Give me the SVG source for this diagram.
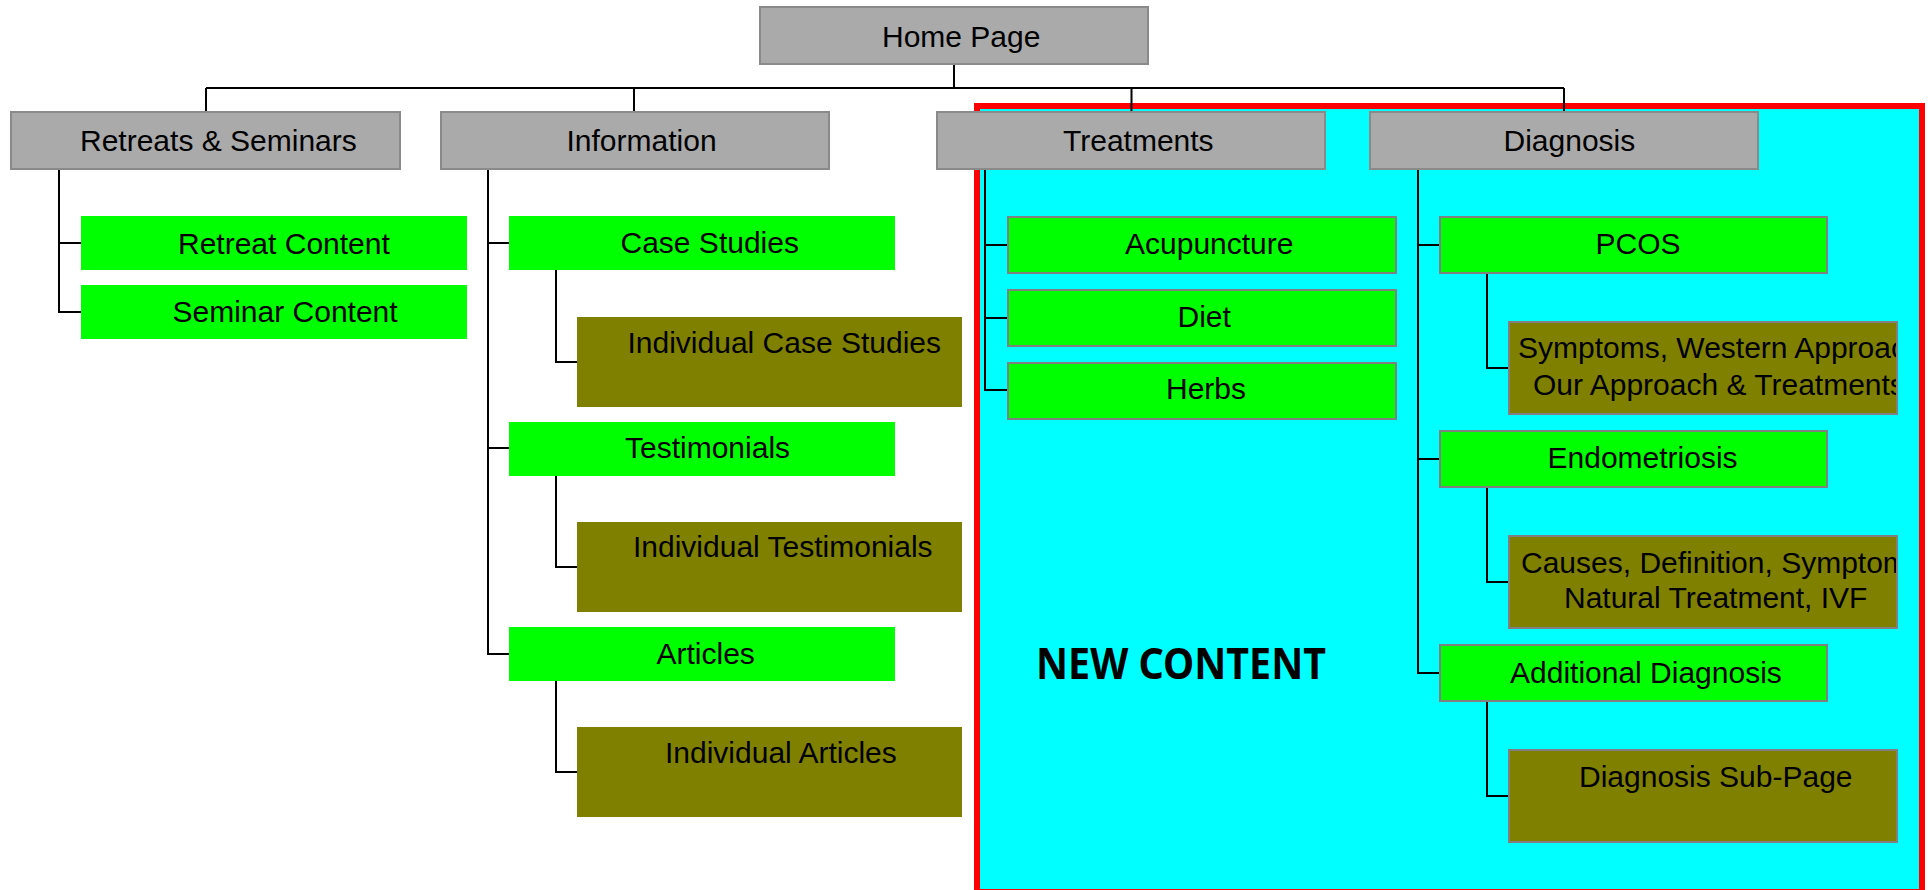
<svg xmlns="http://www.w3.org/2000/svg" width="1931" height="890" viewBox="0 0 1931 890">
<defs>
<style>
.t{font-family:"Liberation Sans",Arial,sans-serif;font-size:30px;fill:#000}
.gray{fill:#aaaaaa;stroke:#8a8a8a;stroke-width:2}
.grn{fill:#00ff00}
.grnb{fill:#00ff00;stroke:#808080;stroke-width:2}
.olv{fill:#808000}
.olvb{fill:#808000;stroke:#808080;stroke-width:2}
#connectors path{stroke:#000;stroke-width:2;fill:none}
</style>
<clipPath id="clipSym"><rect x="1509" y="322" width="387" height="92"/></clipPath>
<clipPath id="clipCau"><rect x="1509" y="536" width="387" height="92"/></clipPath>
</defs>
<rect width="1931" height="890" fill="#ffffff"/>
<g id="new-content-area">
<rect x="977" y="106" width="945" height="786" fill="#00ffff" stroke="#ff0000" stroke-width="6"/>
<text x="1036" y="679" font-family="'Noto Sans', 'Open Sans', sans-serif" font-weight="bold" font-size="43" textLength="290" lengthAdjust="spacingAndGlyphs">NEW CONTENT</text>
</g>
<g id="connectors">
<path d="M954 64V88M206 88H1564M206 88V112M634 88V112M1131.5 88V112M1564 88V112"/>
<path d="M59 169V312H81M59 243H81"/>
<path d="M488 169V654H509M488 243H509M488 448H509"/>
<path d="M556 270V362H577M556 476V567H577M556 681V772H577"/>
<path d="M985 169V390H1008M985 245H1008M985 318H1008"/>
<path d="M1418 169V673H1440M1418 245H1440M1418 459H1440"/>
<path d="M1487 273V368H1509M1487 487V582H1509M1487 701V796H1509"/>
</g>
<g id="home-page"><rect class="gray" x="760" y="7" width="388" height="57"/><text class="t" x="882" y="47">Home Page</text></g>
<g id="retreats-seminars"><rect class="gray" x="11" y="112" width="389" height="57"/><text class="t" x="80" y="151">Retreats &amp; Seminars</text></g>
<g id="information"><rect class="gray" x="441" y="112" width="388" height="57"/><text class="t" x="566.5" y="151">Information</text></g>
<g id="treatments"><rect class="gray" x="937" y="112" width="388" height="57"/><text class="t" x="1063" y="151">Treatments</text></g>
<g id="diagnosis"><rect class="gray" x="1370" y="112" width="388" height="57"/><text class="t" x="1503.5" y="151">Diagnosis</text></g>
<g id="retreat-content"><rect class="grn" x="81" y="216" width="386" height="54"/><text class="t" x="178" y="254">Retreat Content</text></g>
<g id="seminar-content"><rect class="grn" x="81" y="285" width="386" height="54"/><text class="t" x="172.5" y="322">Seminar Content</text></g>
<g id="case-studies"><rect class="grn" x="509" y="216" width="386" height="54"/><text class="t" x="620.5" y="253">Case Studies</text></g>
<g id="individual-case-studies"><rect class="olv" x="577" y="317" width="385" height="90"/><text class="t" x="627.5" y="353">Individual Case Studies</text></g>
<g id="testimonials"><rect class="grn" x="509" y="422" width="386" height="54"/><text class="t" x="625" y="458">Testimonials</text></g>
<g id="individual-testimonials"><rect class="olv" x="577" y="522" width="385" height="90"/><text class="t" x="633" y="557">Individual Testimonials</text></g>
<g id="articles"><rect class="grn" x="509" y="627" width="386" height="54"/><text class="t" x="656.5" y="664">Articles</text></g>
<g id="individual-articles"><rect class="olv" x="577" y="727" width="385" height="90"/><text class="t" x="665" y="763">Individual Articles</text></g>
<g id="acupuncture"><rect class="grnb" x="1008" y="217" width="388" height="56"/><text class="t" x="1125" y="254">Acupuncture</text></g>
<g id="diet"><rect class="grnb" x="1008" y="290" width="388" height="56"/><text class="t" x="1177.5" y="327">Diet</text></g>
<g id="herbs"><rect class="grnb" x="1008" y="363" width="388" height="56"/><text class="t" x="1166" y="399">Herbs</text></g>
<g id="pcos"><rect class="grnb" x="1440" y="217" width="387" height="56"/><text class="t" x="1595.5" y="254">PCOS</text></g>
<g id="pcos-detail"><rect class="olvb" x="1509" y="322" width="388" height="92"/><g clip-path="url(#clipSym)"><text class="t" x="1518" y="358">Symptoms, Western Approach,</text><text class="t" x="1533" y="395">Our Approach &amp; Treatments</text></g></g>
<g id="endometriosis"><rect class="grnb" x="1440" y="431" width="387" height="56"/><text class="t" x="1547.5" y="468">Endometriosis</text></g>
<g id="endometriosis-detail"><rect class="olvb" x="1509" y="536" width="388" height="92"/><g clip-path="url(#clipCau)"><text class="t" x="1521" y="573">Causes, Definition, Symptoms,</text><text class="t" x="1564" y="608">Natural Treatment, IVF</text></g></g>
<g id="additional-diagnosis"><rect class="grnb" x="1440" y="645" width="387" height="56"/><text class="t" x="1510" y="683">Additional Diagnosis</text></g>
<g id="diagnosis-sub-page"><rect class="olvb" x="1509" y="750" width="388" height="92"/><text class="t" x="1579" y="787">Diagnosis Sub-Page</text></g>
</svg>
